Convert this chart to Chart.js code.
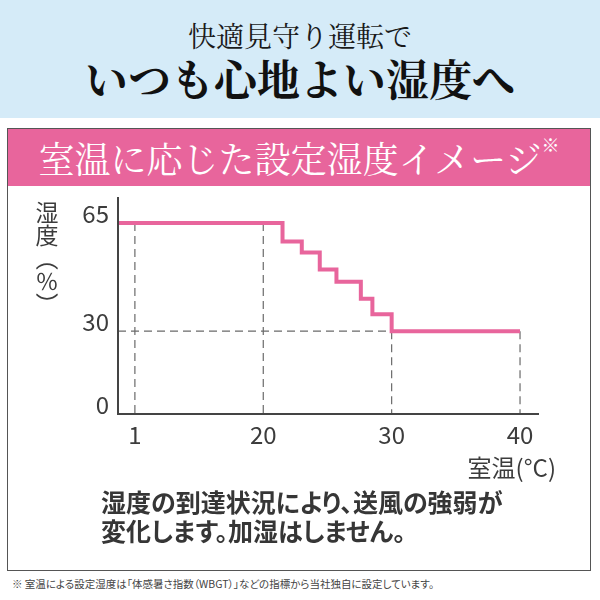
<!DOCTYPE html>
<html><head><meta charset="utf-8">
<script src="https://cdn.jsdelivr.net/npm/chart.js@4"></script>
<style>
html,body{margin:0;padding:0;width:600px;height:600px;overflow:hidden;background:#fff;font-family:"Noto Sans CJK JP",sans-serif;}
.abs{position:absolute;}
#band{left:0;top:0;width:600px;height:118px;background:#d5ebf8;}
#sub{left:0;top:15px;width:600px;text-align:center;font-size:28px;line-height:40px;color:#1a1a1a;font-family:"Noto Serif CJK JP","Noto Sans CJK JP",serif;}
#main{left:0;top:52px;width:600px;text-align:center;font-size:43px;line-height:52px;font-weight:bold;color:#111;font-family:"Noto Serif CJK JP","Noto Sans CJK JP",serif;}
#frame{left:7px;top:128px;width:584px;height:443px;box-sizing:border-box;border:1.5px solid #555;}
#pink{left:0;top:0;width:100%;height:57px;background:#e8659c;color:#fff;text-align:center;font-size:36px;line-height:57px;font-family:"Noto Serif CJK JP","Noto Sans CJK JP",serif;}
#pink sup{font-size:18px;vertical-align:top;line-height:30px;}
#chartbox{left:0;top:180px;width:600px;height:300px;}
#ylab{left:35px;top:201px;font-size:23px;line-height:23px;writing-mode:vertical-rl;color:#3c3c3c;}
#xlab{right:44px;top:452px;font-size:24px;line-height:30px;color:#3c3c3c;}
#body{left:101px;top:487px;font-size:25px;line-height:29px;font-weight:bold;color:#363636;font-feature-settings:"palt";}
#note{left:12px;top:577px;font-size:10.5px;line-height:14px;color:#444;font-feature-settings:"palt";}
</style></head>
<body>
<div id="band" class="abs"></div>
<div id="sub" class="abs">快適見守り運転で</div>
<div id="main" class="abs">いつも心地よい湿度へ</div>
<div id="frame" class="abs"><div id="pink" class="abs">室温に応じた設定湿度イメージ<sup>※</sup></div></div>
<div id="chartbox" class="abs"><canvas id="c" width="600" height="300"></canvas></div>
<div id="ylab" class="abs">湿度（％）</div>
<div id="xlab" class="abs">室温(°C)</div>
<div id="body" class="abs">湿度の到達状況により、送風の強弱が<br>変化します。加湿はしません。</div>
<div id="note" class="abs">※ 室温による設定湿度は「体感暑さ指数（WBGT）」などの指標から当社独自に設定しています。</div>
<script>
// ---- data ----
const TEMPS = [-1.5, 21.5, 23, 24.4, 25.7, 27.6, 28.5, 30, 40];     // room temperature (°C) at each step
const HUMID = [65, 59, 55.5, 50, 46, 40.5, 35.5, 30, 30];            // set humidity (%) from that step on
const X_TICKS = [1, 20, 30, 40];
const Y_TICKS = [0, 30, 65];

// axis configuration (tick values are evenly / weighted spaced)
const AXIS_CFG = {
  x: {stops: X_TICKS, weights: [1, 1, 1], min: -1.5, max: 41.4},
  y: {stops: Y_TICKS, weights: [1, 1.306], min: 0, max: 73.1}
};

class StopScale extends Chart.LinearScale {
  static id = 'stops';
  static defaults = Chart.LinearScale.defaults;
  _cfg() {
    const c = AXIS_CFG[this.id];
    if (!c._cum) { c._cum = [0]; c.weights.forEach((w, i) => c._cum.push(c._cum[i] + w)); }
    return c;
  }
  toPos(val) {
    const c = this._cfg(), v = c.stops, w = c.weights, cum = c._cum;
    let i = 0;
    while (i < v.length - 2 && val > v[i + 1]) i++;
    return cum[i] + w[i] * (val - v[i]) / (v[i + 1] - v[i]);
  }
  determineDataLimits() {
    const c = this._cfg();
    this.min = this.toPos(c.min);
    this.max = this.toPos(c.max);
  }
  buildTicks() {
    return this._cfg().stops.map(value => ({value}));
  }
  getPixelForValue(value) {
    if (value === null || value === undefined || isNaN(value)) return NaN;
    return this.getPixelForDecimal((this.toPos(value) - this._startValue) / this._valueRange);
  }
}
Chart.register(StopScale);

// humidity of the step series at a given temperature
function humidAt(t) { let j = 0; for (let i = 0; i < TEMPS.length; i++) if (TEMPS[i] <= t) j = i; return HUMID[j]; }
// first temperature where the series reaches a humidity level
function tempAt(h) { for (let i = 0; i < HUMID.length; i++) if (HUMID[i] <= h) return TEMPS[i]; return TEMPS[TEMPS.length - 1]; }

const guideStyle = {borderColor: '#6a6a6a', borderWidth: 1.2, borderDash: [8, 5], pointRadius: 0, fill: false, order: 2, clip: 0};
const guides = [];
X_TICKS.forEach(t => guides.push(Object.assign({data: [{x: t, y: humidAt(t)}, {x: t, y: Y_TICKS[0]}]}, guideStyle)));
Y_TICKS.slice(1).forEach(h => guides.push(Object.assign({data: [{x: AXIS_CFG.x.min, y: h}, {x: tempAt(h), y: h}]}, guideStyle)));

const tickFont = {family: '"Noto Sans CJK JP", sans-serif', size: 24};
new Chart(document.getElementById('c'), {
  type: 'line',
  data: {
    datasets: [{
      data: TEMPS.map((t, i) => ({x: t, y: HUMID[i]})),
      stepped: 'before',
      borderColor: '#e8659c',
      borderWidth: 4,
      borderJoinStyle: 'miter',
      borderCapStyle: 'butt',
      pointRadius: 0,
      fill: false,
      order: 0,
      clip: 0
    }, ...guides]
  },
  options: {
    responsive: false,
    animation: false,
    events: [],
    layout: {padding: {left: 58, top: 18, right: 62, bottom: 26}},
    plugins: {legend: {display: false}, tooltip: {enabled: false}},
    scales: {
      x: {
        type: 'stops',
        grid: {display: false, drawTicks: false},
        border: {display: true, color: '#444', width: 2, z: 1},
        ticks: {autoSkip: false, maxRotation: 0, padding: 6, color: '#3c3c3c', font: tickFont, callback: v => String(v)},
        afterFit: s => { s.height = 40; s.paddingLeft = 0; s.paddingRight = 0; }
      },
      y: {
        type: 'stops',
        grid: {display: false, drawTicks: false},
        border: {display: true, color: '#444', width: 2, z: 1},
        ticks: {autoSkip: false, padding: 9, labelOffset: -9, color: '#3c3c3c', font: tickFont, callback: v => String(v)},
        afterFit: s => { s.width = 60; s.paddingTop = 0; s.paddingBottom = 0; }
      }
    }
  }
});
</script>
</body></html>
